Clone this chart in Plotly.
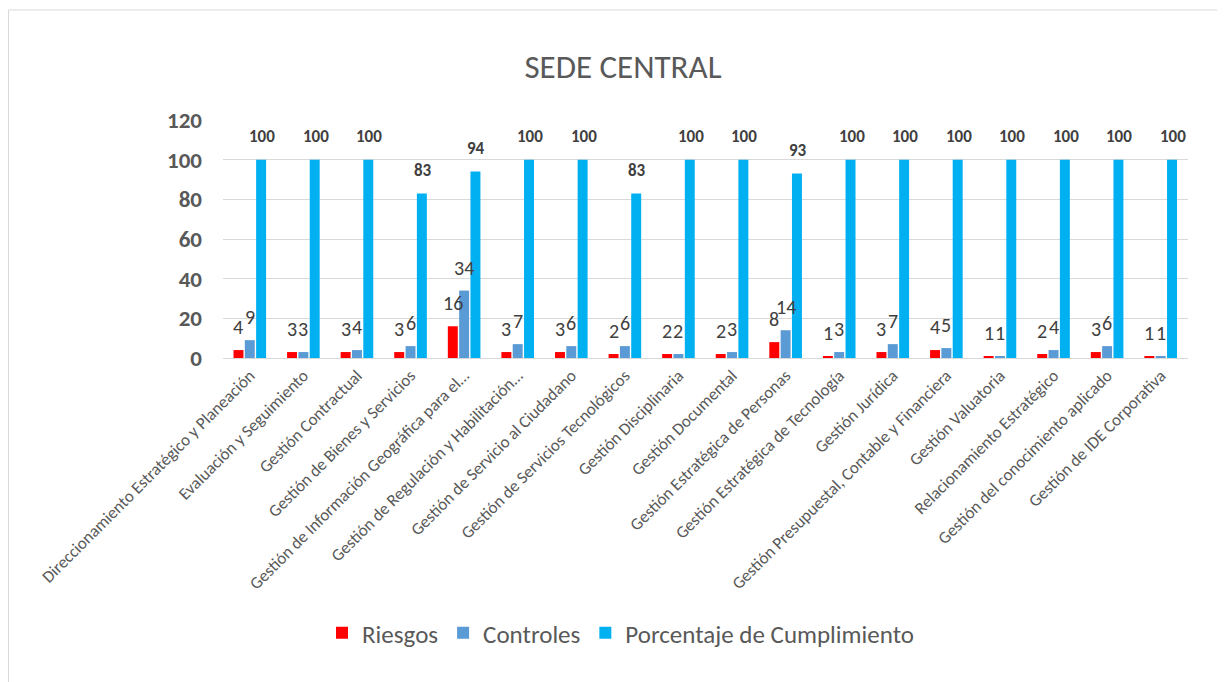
import plotly.graph_objects as go

categories = [
    "Direccionamiento Estratégico y Planeación",
    "Evaluación y Seguimiento",
    "Gestión Contractual",
    "Gestión de Bienes y Servicios",
    "Gestión de Información Geográfica para el…",
    "Gestión de Regulación y Habilitación…",
    "Gestión de Servicio al Ciudadano",
    "Gestión de Servicios Tecnológicos",
    "Gestión Disciplinaria",
    "Gestión Documental",
    "Gestión Estratégica de Personas",
    "Gestión Estratégica de Tecnología",
    "Gestión Jurídica",
    "Gestión Presupuestal, Contable y Financiera",
    "Gestión Valuatoria",
    "Relacionamiento Estratégico",
    "Gestión del conocimiento aplicado",
    "Gestión de IDE Corporativa",
]
riesgos = [4, 3, 3, 3, 16, 3, 3, 2, 2, 2, 8, 1, 3, 4, 1, 2, 3, 1]
controles = [9, 3, 4, 6, 34, 7, 6, 6, 2, 3, 14, 3, 7, 5, 1, 4, 6, 1]
cumplimiento = [100, 100, 100, 83, 94, 100, 100, 83, 100, 100, 93, 100, 100, 100, 100, 100, 100, 100]
y_ticks = [0, 20, 40, 60, 80, 100, 120]

FONT = "Calibri, Carlito, Lato, sans-serif"
GRAY = "#595959"

fig = go.Figure()
series = [
    ("Riesgos", riesgos, "#FF0000"),
    ("Controles", controles, "#5B9BD5"),
    ("Porcentaje de Cumplimiento", cumplimiento, "#00B0F0"),
]
for name, vals, col in series:
    fig.add_trace(go.Bar(name=name, x=categories, y=vals, marker_color=col,
                         marker_line_width=0))

annotations = []
shifts = [-11.3, 0, 11.3]
for i, (name, vals, col) in enumerate(series):
    for c, v in zip(categories, vals):
        bold = i == 2
        annotations.append(dict(
            x=c, y=v, xref="x", yref="y", text=f"<b>{v}</b>" if bold else str(v),
            showarrow=False, xshift=shifts[i] + (1 if bold else 0), yshift=23,
            yanchor="middle",
            font=dict(family=FONT, size=17 if bold else 20, color="#404040"),
        ))

fig.update_layout(
    width=1225, height=682,
    margin=dict(l=215, r=45, t=112, b=332),
    paper_bgcolor="white", plot_bgcolor="white",
    barmode="group", bargap=0.366, bargroupgap=0.12,
    title=dict(text="SEDE CENTRAL", x=0.502, xanchor="center", y=1 - 58 / 682,
               yanchor="middle", xref="container", yref="container",
               font=dict(family=FONT, size=33, color=GRAY)),
    font=dict(family=FONT, color=GRAY),
    showlegend=True,
    legend=dict(orientation="h", xref="container", yref="container",
                x=0.5, xanchor="center", y=1 - 625 / 682, yanchor="middle",
                font=dict(family=FONT, size=25, color=GRAY),
                itemwidth=30, traceorder="normal"),
    annotations=annotations,
    shapes=[dict(type="rect", xref="paper", yref="paper",
                 x0=(0.5 - 215) / 965, x1=(1240 - 215) / 965,
                 y0=(350 - 700) / 238, y1=(350 - 2) / 238,
                 line=dict(color="#D9D9D9", width=1), fillcolor="rgba(0,0,0,0)",
                 layer="below")],
)
fig.update_xaxes(tickangle=-45, tickfont=dict(family=FONT, size=17, color=GRAY),
                 showline=True, linecolor="#D9D9D9", linewidth=1,
                 showgrid=False, automargin=False, ticks="")
fig.update_yaxes(range=[0, 120], tickvals=y_ticks,
                 tickfont=dict(family=FONT, size=23, color=GRAY, weight="bold"),
                 showgrid=True, gridcolor="#D9D9D9", gridwidth=1,
                 zeroline=False, showline=False, automargin=False,
                 ticklabelstandoff=20)

fig.write_html("out.html")
